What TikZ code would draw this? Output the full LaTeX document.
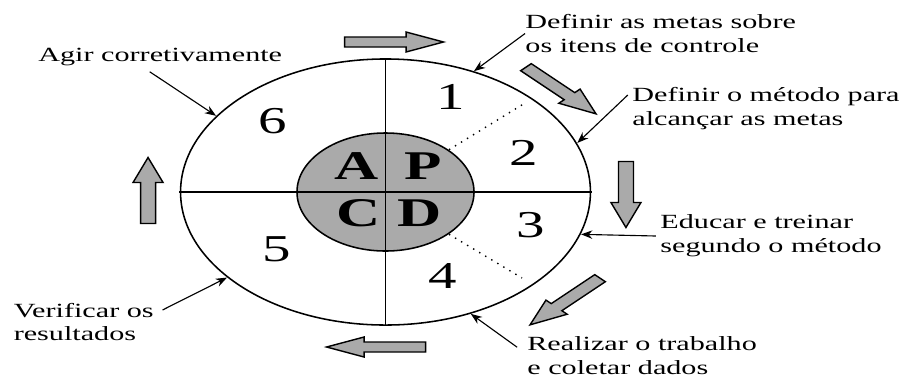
\documentclass[tikz,border=0pt]{standalone}
\usepackage{fontspec}
\setmainfont{Liberation Serif}
\usetikzlibrary{arrows.meta, shapes.geometric}
\definecolor{hubgray}{RGB}{170,170,170}

\tikzset{
  labeltext/.style={font=\fontsize{14.3}{17}\selectfont, align=left, inner sep=0pt, anchor=west},
  stage/.style={font=\fontsize{27}{27}\selectfont, inner sep=0pt},
  letter/.style={font=\fontsize{29}{29}\selectfont\bfseries, inner sep=0pt},
  pointer/.style={-{Stealth[length=8pt,width=6pt]}, line width=0.8pt},
  cyclearrow/.pic={
    \filldraw[fill=hubgray, line width=1pt]
      (-33,-5) -- (8,-5) -- (8,-10) -- (33,0) -- (8,10) -- (8,5) -- (-33,5) -- cycle;
  }
}

\begin{document}
\begin{tikzpicture}[x=0.025cm, y=-0.025cm, xscale=1.5, every node/.append style={transform shape}]
    \useasboundingbox (0,0) rectangle (602.67,378);

    % the cycle
    \node[draw, ellipse, line width=1.1pt, minimum width=6.83cm, minimum height=6.65cm, inner sep=0pt] (ring) at (257,192) {};
    \node[draw, circle, fill=hubgray, line width=1.1pt, minimum size=2.95cm, inner sep=0pt] (hub) at (257,192) {};
    \draw[line width=1.1pt] (ring.north) -- (ring.south);
    \draw[line width=1.1pt] (ring.west) -- (ring.east);

    \coordinate (d1) at (350,103);
    \coordinate (d2) at (348,278);
    \draw[dash pattern=on 1pt off 4pt, line width=1pt] (hub.45) -- (d1);
    \draw[dash pattern=on 1pt off 4pt, line width=1pt] (hub.-45) -- (d2);

    \node[letter] (act) at (238,166) {A};
    \node[letter] (plan) at (282,166) {P};
    \node[letter] (check) at (239.3,213) {C};
    \node[letter] (do) at (280,213) {D};

    \node[stage] (s1) at (300.7,97) {1};
    \node[stage] (s2) at (349.3,153) {2};
    \node[stage] (s3) at (354,225) {3};
    \node[stage] (s4) at (295.3,276) {4};
    \node[stage] (s5) at (184.7,249) {5};
    \node[stage] (s6) at (182,121) {6};

    % turning arrows
    \pic at (262.7,42) {cyclearrow};
    \pic[rotate=-45] at (374,90.5) {cyclearrow};
    \pic[rotate=-90] at (417.3,194.5) {cyclearrow};
    \pic[rotate=-135] at (376.7,301.5) {cyclearrow};
    \pic[rotate=180] at (250.7,347) {cyclearrow};
    \pic[rotate=90] at (98.7,190.5) {cyclearrow};

    % steps
    \node[labeltext] (goals) at (350,33.5) {Definir as metas sobre\\os itens de controle};
    \node[labeltext] (method) at (421.3,109) {Definir o método para\\alcançar as metas};
    \node[labeltext] (train) at (440,236) {Educar e treinar\\segundo o método};
    \node[labeltext] (work) at (351.3,356) {Realizar o trabalho\\e coletar dados};
    \node[labeltext] (verify) at (8.9,322) {Verificar os\\resultados};
    \node[labeltext] (correct) at (25.3,57) {Agir corretivamente};

    \draw[pointer] (goals.west) -- (ring.64);
    \draw[pointer] ([xshift=-2pt,yshift=0.35cm]method.west) -- (ring.21);
    \draw[pointer] ([xshift=-2pt]train.west) -- (ring.-18);
    \draw[pointer] ([xshift=-4.7pt,yshift=0.22cm]work.west) -- (ring.-65);
    \draw[pointer] ([xshift=4pt,yshift=0.3cm]verify.east) -- (ring.219);
    \draw[pointer] ([xshift=-5pt,yshift=-4pt]correct.south) -- (ring.146);
\end{tikzpicture}
\end{document}
